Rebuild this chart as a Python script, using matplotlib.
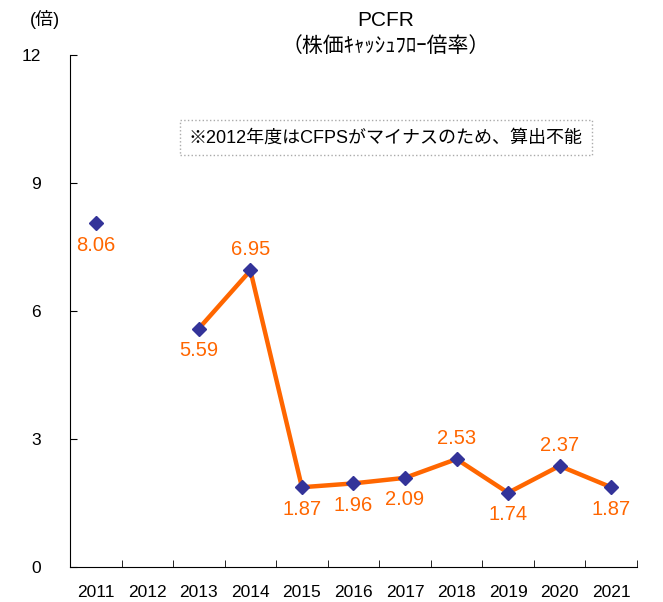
import numpy as np
import matplotlib
matplotlib.use("Agg")
import matplotlib.pyplot as plt

plt.rcParams['font.family'] = ['Liberation Sans', 'Noto Sans CJK JP', 'DejaVu Sans']

years = ['2011', '2012', '2013', '2014', '2015', '2016', '2017', '2018', '2019', '2020', '2021']
pcfr = [8.06, np.nan, 5.59, 6.95, 1.87, 1.96, 2.09, 2.53, 1.74, 2.37, 1.87]
# 値ラベルを点の上に置くか下に置くか
label_above = [False, False, False, True, False, False, False, True, False, True, False]

fig = plt.figure(figsize=(6.63, 6.02), dpi=100)
ax = fig.add_axes([0.1056, 0.0581, 0.855, 0.8505])

x = np.arange(len(years))
ax.plot(x, pcfr, color='#FF6600', lw=3.2, zorder=2)
ax.plot(x, pcfr, ls='none', marker='D', ms=7.5, color='#333399', zorder=3)

for xi, v, up in zip(x, pcfr, label_above):
    if np.isnan(v):
        continue
    if up:
        ax.annotate(f'{v:.2f}', (xi, v), xytext=(0, 8), textcoords='offset points',
                    ha='center', va='bottom', color='#FF6600', fontsize=14.5)
    else:
        ax.annotate(f'{v:.2f}', (xi, v), xytext=(0, -9), textcoords='offset points',
                    ha='center', va='top', color='#FF6600', fontsize=14.5)

ax.set_xlim(-0.5, len(years) - 0.5)
ax.set_ylim(0, 12)
ax.set_yticks([0, 3, 6, 9, 12])
ax.set_xticks(x)
ax.set_xticklabels(years)
ax.set_xticks(np.arange(-0.5, len(years)), minor=True)
ax.tick_params(axis='x', which='major', length=0, pad=13, labelsize=12.5)
ax.tick_params(axis='x', which='minor', direction='in', length=5)
ax.tick_params(axis='y', direction='in', length=5, pad=21, labelsize=12.5)
for s in ['top', 'right']:
    ax.spines[s].set_visible(False)

fig.text(0.068, 0.968, '(倍)', ha='center', va='center', fontsize=13)
fig.text(0.582, 0.966, 'PCFR', ha='center', va='center', fontsize=15)
fig.text(0.582, 0.923, '（株価ｷｬｯｼｭﾌﾛｰ倍率）', ha='center', va='center', fontsize=15)

ax.text(0.557, 0.838, '※2012年度はCFPSがマイナスのため、算出不能', transform=ax.transAxes,
        ha='center', va='center', fontsize=13,
        bbox=dict(boxstyle='square,pad=0.5', fc='white', ec='#AAAAAA', ls=':', lw=1))

fig.savefig('out.png', dpi=100)
